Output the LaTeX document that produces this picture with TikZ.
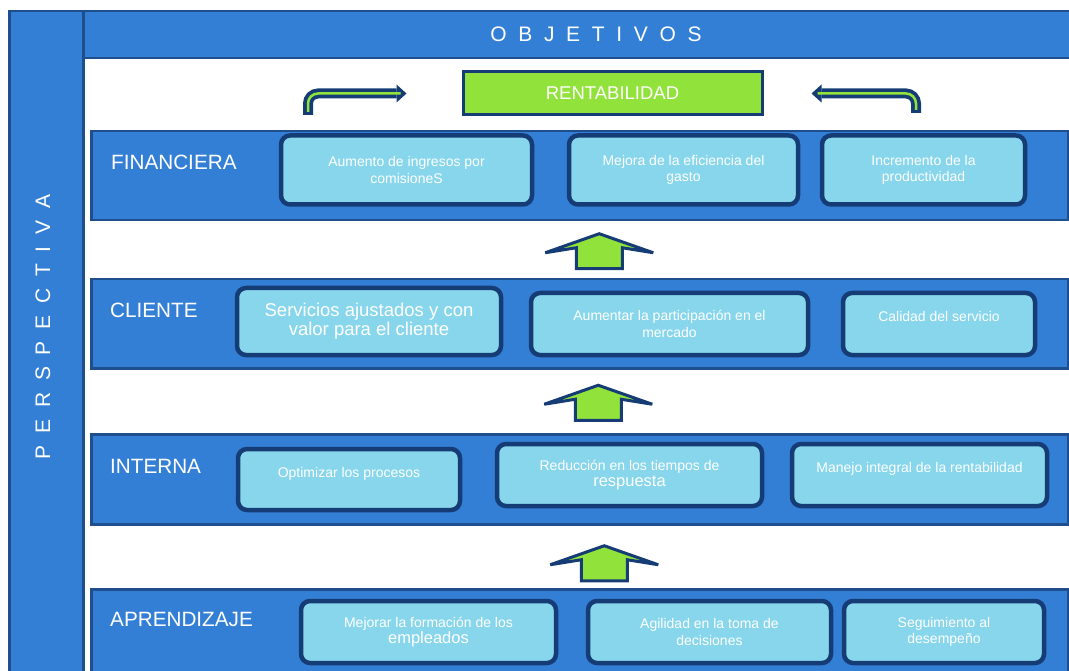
\documentclass[tikz,border=0pt]{standalone}
\usepackage{fontspec}
\setmainfont{Liberation Sans}
\usetikzlibrary{arrows.meta, calc}

\definecolor{bandblue}{RGB}{52,127,214}
\definecolor{darkblue}{RGB}{30,78,140}
\definecolor{boxblue}{RGB}{135,214,236}
\definecolor{navy}{RGB}{22,60,118}
\definecolor{lime}{RGB}{146,226,60}

\newcommand{\bigtxt}{\fontsize{16.5}{18}\selectfont}
\newcommand{\widegaps}{\fontsize{21}{22}\selectfont\spaceskip 11.7pt\relax}

\begin{document}
\begin{tikzpicture}[
            x = 1pt, y = -1pt, % pixel grid, y goes down
            > = {Triangle[length=10pt, width=18pt, line width=0pt]}, % arrow head style
            font = \fontsize{14}{16.5}\selectfont,
            text = white
        ]

        \tikzstyle{band}=[
            draw = darkblue,
            line width = 2.5pt,
            fill = bandblue,
            anchor = north west,
            inner sep = 0pt
        ]
        \tikzstyle{goal}=[
            draw = navy,
            line width = 4.5pt,
            fill = boxblue,
            rounded corners = 9pt,
            align = center,
            inner sep = 0pt
        ]
        \tikzstyle{oneline}=[text depth = 15pt]
        \tikzstyle{rowname}=[anchor = west, inner sep = 0pt, font = \fontsize{20.7}{22}\selectfont]
        \tikzstyle{spaced}=[inner sep = 0pt, font = \widegaps]
        \tikzstyle{uparrow}=[draw = navy, line width = 3pt, fill = lime, line join = miter]
        \tikzstyle{bent}=[draw = navy, line width = 10pt, rounded corners = 10pt, ->]
        \tikzstyle{bentcore}=[draw = lime, line width = 2.5pt, rounded corners = 10pt]

        \useasboundingbox (0,0) rectangle (1069,671);

        % frame
        \node[band, minimum width = 74pt, minimum height = 700pt] (side) at (8,10) {};
        \node[band, minimum width = 1030pt, minimum height = 47pt] (top) at (82,10) {};
        \node[spaced] (obj) at (596,34) {O B J E T I V O S};
        \node[spaced, rotate = 90] (persp) at (43,327) {P E R S P E C T I V A};

        % rows
        \node[band, minimum width = 977pt, minimum height = 89pt] (fin) at (90,130) {};
        \node[band, minimum width = 977pt, minimum height = 89pt] (cli) at (90,278) {};
        \node[band, minimum width = 977pt, minimum height = 90pt] (int) at (90,433) {};
        \node[band, minimum width = 977pt, minimum height = 100pt] (apr) at (90,588) {};

        \node[rowname] (finname) at (111,162) {FINANCIERA};
        \node[rowname] (cliname) at (110,310) {CLIENTE};
        \node[rowname] (intname) at (110,466) {INTERNA};
        \node[rowname] (aprname) at (110,619) {APRENDIZAJE};

        \node[draw = navy, line width = 3pt, fill = lime, minimum width = 299pt,
            minimum height = 43pt, font = \fontsize{18.5}{20}\selectfont]
            (rent) at (612.5,93.5) {RENTABILIDAD};

        % goals
        \node[goal, minimum width = 251pt, minimum height = 69pt] (f1) at (406.5,170) {Aumento de ingresos por\\comisioneS};
        \node[goal, minimum width = 229pt, minimum height = 69pt] (f2) at (683.5,170) {Mejora de la eficiencia del\\gasto};
        \node[goal, minimum width = 203pt, minimum height = 69pt] (f3) at (923.5,170) {Incremento de la\\productividad};

        \node[goal, minimum width = 264pt, minimum height = 67pt, font = \fontsize{18.5}{19}\selectfont] (c1) at (369,321.5) {Servicios ajustados y con\\valor para el cliente};
        \node[goal, minimum width = 277pt, minimum height = 62pt] (c2) at (669.5,324) {Aumentar la participación en el\\mercado};
        \node[goal, oneline, minimum width = 192pt, minimum height = 62pt] (c3) at (939,324) {Calidad del servicio};

        \node[goal, oneline, minimum width = 222pt, minimum height = 61pt] (i1) at (349,479.5) {Optimizar los procesos};
        \node[goal, minimum width = 265pt, minimum height = 62pt] (i2) at (629.5,475) {Reducción en los tiempos de\\{\bigtxt respuesta}};
        \node[goal, oneline, minimum width = 255pt, minimum height = 62pt] (i3) at (919.5,475) {Manejo integral de la rentabilidad};

        \node[goal, minimum width = 255pt, minimum height = 62pt] (a1) at (428.5,632) {Mejorar la formación de los\\{\bigtxt empleados}};
        \node[goal, minimum width = 243pt, minimum height = 62pt] (a2) at (709.5,632) {Agilidad en la toma de\\decisiones};
        \node[goal, minimum width = 200pt, minimum height = 62pt] (a3) at (944,632) {Seguimiento al\\desempeño};

        % block arrows between rows
        \foreach \lo/\hi/\dx/\dy in {cli/fin/19.5/0, int/cli/18.5/0, apr/int/24.5/5} {
            \coordinate (mid) at ($(\lo.north)!0.5!(\hi.south)$);
            \draw[uparrow, shift = {($(mid)+(\dx,\dy)$)}]
                (0,-16) -- (54,3) -- (23,-2) -- (23,19) -- (-23,19) -- (-23,-2) -- (-54,3) -- cycle;
        }

        % bent arrows to RENTABILIDAD
        \coordinate (finl) at (308,115);
        \coordinate (finr) at (916,113);
        \draw[bent, shorten > = 55pt] (finl) |- (rent.west);
        \draw[bentcore, shorten < = 3pt, shorten > = 61pt] (finl) |- (rent.west);
        \draw[bent, shorten > = 48pt] (finr) |- (rent.east);
        \draw[bentcore, shorten < = 3pt, shorten > = 54pt] (finr) |- (rent.east);

  \end{tikzpicture}
\end{document}
